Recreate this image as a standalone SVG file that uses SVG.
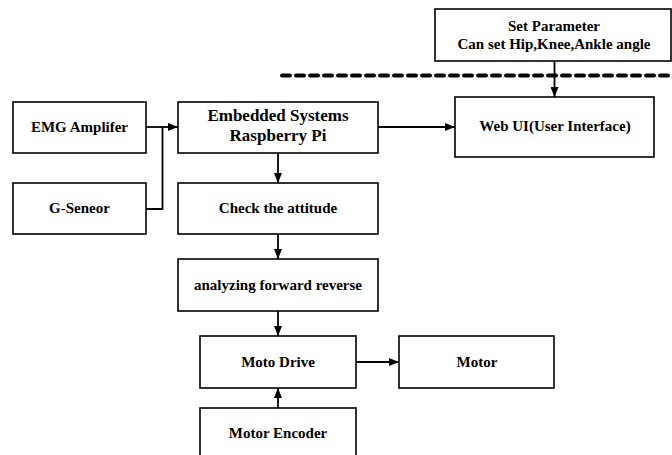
<svg xmlns="http://www.w3.org/2000/svg" width="672" height="455" viewBox="0 0 672 455">
<style>
.box{fill:#fff;stroke:#000;stroke-width:1.6}
.t{font-family:"Liberation Serif","Times New Roman",serif;font-weight:bold;font-size:15px;fill:#000;text-anchor:middle}
.big{font-size:17px}
.c{fill:none;stroke:#000;stroke-width:1.8}
</style>
<defs>
<marker id="ah" viewBox="0 0 10 8" refX="10" refY="4" markerWidth="10" markerHeight="8" markerUnits="userSpaceOnUse" orient="auto">
<path d="M0,0 L10,4 L0,8 Z" fill="#000"/>
</marker>
</defs>
<line x1="282" y1="75.5" x2="672" y2="75.5" stroke="#000" stroke-width="4" stroke-dasharray="8 6" stroke-linecap="round"/>
<g id="connectors">
<path class="c" d="M146,127 H178" marker-end="url(#ah)"/>
<path class="c" d="M146,209 H162.5 V127"/>
<path class="c" d="M378,127 H455" marker-end="url(#ah)"/>
<path class="c" d="M554.5,61 V97" marker-end="url(#ah)"/>
<path class="c" d="M278,153 V183" marker-end="url(#ah)"/>
<path class="c" d="M278,234 V259" marker-end="url(#ah)"/>
<path class="c" d="M278,311 V336" marker-end="url(#ah)"/>
<path class="c" d="M278,408 V388" marker-end="url(#ah)"/>
<path class="c" d="M356,362 H399" marker-end="url(#ah)"/>
</g>
<g id="emg"><rect class="box" x="13" y="102" width="133" height="51"/><text class="t" x="79.5" y="132">EMG Amplifer</text></g>
<g id="gsensor"><rect class="box" x="13" y="183" width="133" height="51"/><text class="t" x="79.5" y="213">G-Seneor</text></g>
<g id="embedded"><rect class="box" x="178" y="102" width="200" height="51"/><text class="t big" x="278" y="121">Embedded Systems</text><text class="t big" x="278" y="141">Raspberry Pi</text></g>
<g id="setparam"><rect class="box" x="435" y="9" width="236" height="52"/><text class="t" x="554" y="31">Set Parameter</text><text class="t" x="554" y="49">Can set Hip,Knee,Ankle angle</text></g>
<g id="webui"><rect class="box" x="455" y="97" width="199" height="60"/><text class="t" x="555" y="131">Web UI(User Interface)</text></g>
<g id="check"><rect class="box" x="178" y="183" width="200" height="51"/><text class="t" x="278" y="213">Check the attitude</text></g>
<g id="analyze"><rect class="box" x="178" y="259" width="200" height="52"/><text class="t" x="278" y="290">analyzing forward reverse</text></g>
<g id="motodrive"><rect class="box" x="200" y="336" width="156" height="52"/><text class="t" x="278" y="367">Moto Drive</text></g>
<g id="motor"><rect class="box" x="399" y="336" width="155" height="52"/><text class="t" x="477" y="367">Motor</text></g>
<g id="encoder"><rect class="box" x="200" y="408" width="156" height="54"/><text class="t" x="278" y="438">Motor Encoder</text></g>
</svg>
